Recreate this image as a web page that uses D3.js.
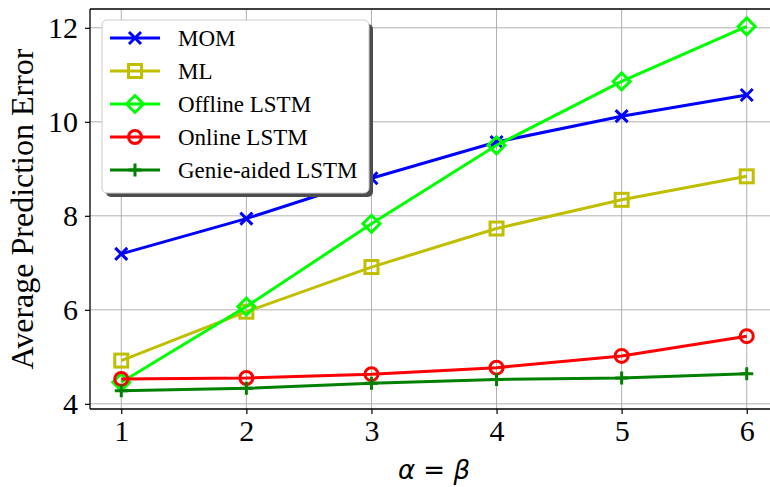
<!DOCTYPE html>
<html>
<head>
<meta charset="utf-8">
<script src="https://cdn.jsdelivr.net/npm/d3@7"></script>
<style>
  body { margin: 0; background: #fff; }
  svg { display: block; overflow: hidden; }
</style>
</head>
<body>
<div class="canvas"></div>
<script>
// data
const xValues = [1, 2, 3, 4, 5, 6];
const momVals = [7.19, 7.94, 8.80, 9.57, 10.12, 10.57];
const mlVals = [4.92, 5.96, 6.91, 7.73, 8.34, 8.84];
const offlineVals = [4.46, 6.07, 7.83, 9.50, 10.86, 12.03];
const onlineVals = [4.53, 4.55, 4.63, 4.77, 5.02, 5.44];
const genieVals = [4.28, 4.33, 4.44, 4.52, 4.55, 4.64];
const yTicks = [4, 6, 8, 10, 12];

const seriesNames = ['MOM', 'ML', 'Offline LSTM', 'Online LSTM', 'Genie-aided LSTM'];

const series = [
  {name: seriesNames[0], vals: momVals, color: '#0000ff', marker: 'x'},
  {name: seriesNames[1], vals: mlVals, color: '#bfbf00', marker: 'square'},
  {name: seriesNames[2], vals: offlineVals, color: '#00ff00', marker: 'diamond'},
  {name: seriesNames[3], vals: onlineVals, color: '#ff0000', marker: 'circle'},
  {name: seriesNames[4], vals: genieVals, color: '#008000', marker: 'plus'}
];

const width = 770, height = 487;
const margin = {top: 9, left: 90, right: 778, bottom: 409};

const svg = d3.select('.canvas')
  .append('svg')
  .attr('width', width)
  .attr('height', height);

const x = d3.scaleLinear().domain([0.75, 6.25]).range([margin.left, margin.right]);
const y = d3.scaleLinear().domain([3.89, 12.40]).range([margin.bottom, margin.top]);

const serif = '"Liberation Serif", "Times New Roman", serif';

// grid
const grid = svg.append('g');
grid.selectAll('.gx').data(xValues).enter().append('line')
  .attr('x1', d => x(d)).attr('x2', d => x(d))
  .attr('y1', margin.top).attr('y2', margin.bottom)
  .attr('stroke', '#b0b0b0').attr('stroke-width', 1);
grid.selectAll('.gy').data(yTicks).enter().append('line')
  .attr('x1', margin.left).attr('x2', margin.right)
  .attr('y1', d => y(d)).attr('y2', d => y(d))
  .attr('stroke', '#b0b0b0').attr('stroke-width', 1);

// axes
const xAxis = d3.axisBottom(x).tickValues(xValues).tickSize(5).tickPadding(6).tickFormat(d3.format('d'));
const yAxis = d3.axisLeft(y).tickValues(yTicks).tickSize(5).tickPadding(7).tickFormat(d3.format('d'));

const xAxisGroup = svg.append('g').attr('transform', `translate(0, ${margin.bottom})`).call(xAxis);
const yAxisGroup = svg.append('g').attr('transform', `translate(${margin.left}, 0)`).call(yAxis);

[xAxisGroup, yAxisGroup].forEach(g => {
  g.select('.domain').remove();
  g.selectAll('.tick line').attr('stroke', '#000').attr('stroke-width', 1.2);
  g.selectAll('text').attr('fill', '#000')
    .style('font-family', serif).style('font-size', '30px');
});

// spines
svg.append('line').attr('x1', margin.left).attr('x2', margin.left)
  .attr('y1', margin.top).attr('y2', margin.bottom).attr('stroke', '#000').attr('stroke-width', 1.3);
svg.append('line').attr('x1', margin.left).attr('x2', margin.right)
  .attr('y1', margin.bottom).attr('y2', margin.bottom).attr('stroke', '#000').attr('stroke-width', 1.3);
svg.append('line').attr('x1', margin.left).attr('x2', margin.right)
  .attr('y1', margin.top).attr('y2', margin.top).attr('stroke', '#000').attr('stroke-width', 1.3);

// markers
function drawMarker(g, type, color, cx, cy) {
  const s = 3;
  if (type === 'x') {
    const r = 6;
    g.append('path').attr('d', `M${cx - r},${cy - r}L${cx + r},${cy + r}M${cx - r},${cy + r}L${cx + r},${cy - r}`)
      .attr('stroke', color).attr('stroke-width', s).attr('fill', 'none');
  } else if (type === 'square') {
    const r = 6.5;
    g.append('rect').attr('x', cx - r).attr('y', cy - r).attr('width', 2 * r).attr('height', 2 * r)
      .attr('stroke', color).attr('stroke-width', s).attr('fill', 'none');
  } else if (type === 'diamond') {
    const r = 8.5;
    g.append('path').attr('d', `M${cx},${cy - r}L${cx + r},${cy}L${cx},${cy + r}L${cx - r},${cy}Z`)
      .attr('stroke', color).attr('stroke-width', s).attr('fill', 'none');
  } else if (type === 'circle') {
    g.append('circle').attr('cx', cx).attr('cy', cy).attr('r', 6.5)
      .attr('stroke', color).attr('stroke-width', s).attr('fill', 'none');
  } else if (type === 'plus') {
    const r = 6.5;
    g.append('path').attr('d', `M${cx - r},${cy}L${cx + r},${cy}M${cx},${cy - r}L${cx},${cy + r}`)
      .attr('stroke', color).attr('stroke-width', s).attr('fill', 'none');
  }
}

const line = d3.line().x((d, i) => x(xValues[i])).y(d => y(d));

series.forEach(s => {
  const g = svg.append('g');
  g.append('path').datum(s.vals)
    .attr('d', line)
    .attr('fill', 'none')
    .attr('stroke', s.color)
    .attr('stroke-width', 3);
  s.vals.forEach((v, i) => drawMarker(g, s.marker, s.color, x(xValues[i]), y(v)));
});

// legend
const lg = {x: 102, y: 20, w: 267, h: 173};
const legend = svg.append('g');
legend.append('rect').attr('x', lg.x + 4).attr('y', lg.y + 4).attr('width', lg.w).attr('height', lg.h)
  .attr('rx', 5).attr('fill', '#4d4d4d');
legend.append('rect').attr('x', lg.x).attr('y', lg.y).attr('width', lg.w).attr('height', lg.h)
  .attr('rx', 5).attr('fill', '#fff').attr('stroke', '#cccccc').attr('stroke-width', 1);

series.forEach((s, i) => {
  const ly = 38 + i * 33;
  legend.append('line').attr('x1', 110).attr('x2', 160).attr('y1', ly).attr('y2', ly)
    .attr('stroke', s.color).attr('stroke-width', 3);
  drawMarker(legend, s.marker, s.color, 135, ly);
  legend.append('text').attr('x', 178).attr('y', ly)
    .attr('dominant-baseline', 'central')
    .style('font-family', serif).style('font-size', '23px')
    .text(s.name);
});

// axis labels
svg.append('text')
  .attr('transform', `translate(22, ${(margin.top + margin.bottom) / 2}) rotate(-90)`)
  .attr('text-anchor', 'middle')
  .attr('dominant-baseline', 'central')
  .style('font-family', serif).style('font-size', '32px')
  .text('Average Prediction Error');

const xl = svg.append('text')
  .attr('x', (margin.left + margin.right) / 2).attr('y', 479)
  .attr('text-anchor', 'middle')
  .style('font-family', '"DejaVu Sans", sans-serif').style('font-size', '26px');
xl.append('tspan').style('font-style', 'italic').text('α');
xl.append('tspan').text(' = ');
xl.append('tspan').style('font-style', 'italic').text('β');
</script>
</body>
</html>
